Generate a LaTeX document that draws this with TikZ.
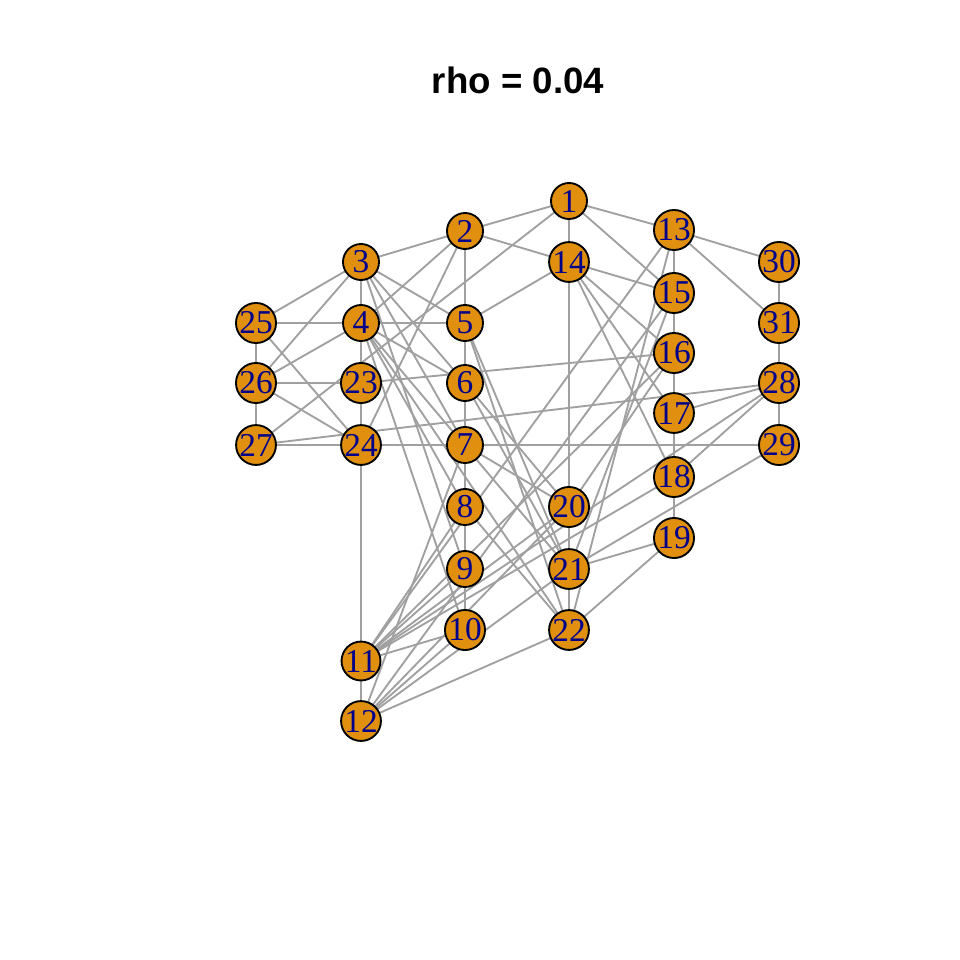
\documentclass[tikz,border=0pt]{standalone}
\usepackage{fontspec}
\setmainfont{Liberation Serif}
\newfontfamily\titlefont{Liberation Sans}
\usetikzlibrary{backgrounds}
\definecolor{vfill}{HTML}{E0900E}
\definecolor{vtext}{HTML}{00008B}
\definecolor{edgec}{HTML}{A0A0A0}
\begin{document}
\begin{tikzpicture}[x=0.75pt,y=-0.75pt,
  vtx/.style={circle,draw=black,line width=1.4pt,fill=vfill,minimum size=27pt,inner sep=0pt,text=vtext,font=\fontsize{25}{25}\selectfont},
  edge/.style={draw=edgec,line width=1.4pt}]
\useasboundingbox (0,0) rectangle (960,960);
\node[font=\titlefont\bfseries\fontsize{27.5}{27.5}\selectfont] (title) at (518,80) {rho = 0.04};
\foreach \n/\x/\y in {1/569/201,2/465/231,3/361/262,13/674/230,14/569/262,30/779/262,15/674/293,
  25/256/323,4/361/323,5/465/323,31/779/323,16/674/353,26/256/383,23/361/383,6/465/383,28/779/383,
  17/674/413,27/256/445,24/361/445,7/465/445,29/779/445,18/674/477,8/465/507,20/569/507,19/674/538,
  9/465/569,21/569/569,10/465/630,22/569/630,11/361/661,12/361/721}
  \node[vtx] (v\n) at (\x,\y) {\n};
\begin{scope}[on background layer]
\foreach \a/\b in {1/2,1/13,1/14,1/15,1/27,
  2/3,2/4,2/5,2/14,2/24,
  3/4,3/5,3/6,3/7,3/9,3/25,3/26,
  4/5,4/6,4/8,4/10,4/21,4/22,4/23,4/25,4/26,
  5/6,5/14,5/21,5/22,
  6/7,6/20,6/21,
  7/8,7/12,7/20,7/24,7/29,
  8/9,8/11,8/22,
  9/10,9/11,
  10/11,10/12,
  11/12,11/13,11/16,11/18,11/20,11/24,11/28,
  12/15,12/20,12/21,12/22,
  13/15,13/22,13/30,13/31,
  14/15,14/16,14/17,14/18,14/20,
  15/16,15/21,
  16/17,16/20,16/23,
  17/18,17/28,
  18/19,18/28,
  19/21,19/22,
  20/21,21/22,21/29,
  23/24,23/26,
  24/25,24/26,24/27,
  25/26,26/27,27/28,
  28/29,28/31,30/31}
  \draw[edge] (v\a.center) -- (v\b.center);
\end{scope}
\end{tikzpicture}
\end{document}
